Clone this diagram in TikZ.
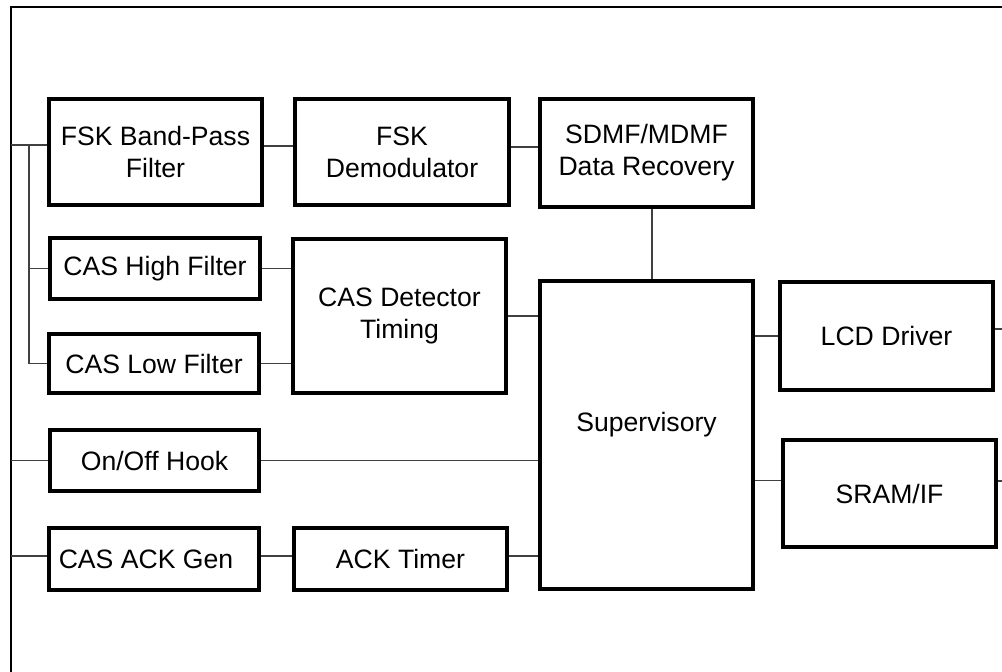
\documentclass[tikz,border=0pt]{standalone}
\usepackage{fontspec}
\setmainfont{Liberation Sans}
\begin{document}
\begin{tikzpicture}[x=1pt,y=-1pt,
  box/.style={draw=black, line width=3.1pt, inner sep=0pt, align=center, font=\fontsize{26.6}{32}\selectfont},
  wire/.style={draw=black!75, line width=1.7pt},
  frame/.style={draw=black, line width=1.5pt}]
\useasboundingbox (0,0) rectangle (1002,672);
\coordinate (frameL) at (11,0);
\coordinate (frameR) at (1002,0);
\coordinate (busX) at (29,0);
\coordinate (frameTL) at (11,7);
\coordinate (frameTR) at (1002,7);
\coordinate (frameBL) at (11,672);
\draw[frame] (frameBL) -- (frameTL) -- (frameTR);

\node[box, minimum width=213pt, minimum height=106pt] (bpf) at (155.5,152) {FSK Band-Pass\\Filter};
\node[box, minimum width=214pt, minimum height=106pt] (dem) at (402,152) {FSK\\Demodulator};
\node[box, minimum width=213pt, minimum height=108pt] (sdmf) at (646.5,153) {SDMF/MDMF\\Data Recovery};
\node[box, minimum width=210pt, minimum height=61pt] (high) at (155,268.5) {CAS High Filter};
\node[box, minimum width=210pt, minimum height=59pt] (low) at (154,363.5) {CAS Low Filter};
\node[box, minimum width=213pt, minimum height=154pt] (det) at (399.5,316) {CAS Detector\\Timing};
\node[box, minimum width=213pt, minimum height=308pt] (sup) at (646.5,435) {};
\node[font=\fontsize{26.6}{32}\selectfont] (suptxt) at (646.5,425) {Supervisory};
\node[box, minimum width=213pt, minimum height=108pt] (lcd) at (886.5,336) {LCD Driver};
\node[box, minimum width=213pt, minimum height=107pt] (sram) at (889.5,493.5) {SRAM/IF};
\node[box, minimum width=209pt, minimum height=61pt] (hook) at (154.5,460.5) {On/Off Hook};
\node[box, minimum width=210pt, minimum height=62pt] (ackgen) at (154,559) {CAS ACK Gen\hspace{16pt}};
\node[box, minimum width=213pt, minimum height=62pt] (acktimer) at (400.5,559) {ACK Timer};

% left bus
\coordinate (bpfin) at ([yshift=7pt]bpf.west);
\draw[wire] (frameL |- bpfin) -- (bpfin);
\draw[wire] (busX |- bpfin) -- (busX |- low.west);
\draw[wire] (busX |- high.west) -- (high.west);
\draw[wire] (busX |- low.west) -- (low.west);
\draw[wire] (frameL |- hook.west) -- (hook.west);
\coordinate (ackin) at ([yshift=3pt]ackgen.west);
\draw[wire] (frameL |- ackin) -- (ackin);

% chain connections
\draw[wire] ([yshift=6pt]bpf.east) -- ([yshift=6pt]dem.west);
\draw[wire] ([yshift=5pt]dem.east) -- ([yshift=5pt]dem.east -| sdmf.west);
\draw[wire] ([xshift=5.5pt]sdmf.south) -- ([xshift=5.5pt]sdmf.south |- sup.north);
\draw[wire] (high.east) -- (high.east -| det.west);
\draw[wire] (low.east) -- (low.east -| det.west);
\draw[wire] (det.east) -- (det.east -| sup.west);
\draw[wire] (hook.east) -- (hook.east -| sup.west);
\draw[wire] ([yshift=3pt]ackgen.east) -- ([yshift=3pt]ackgen.east -| acktimer.west);
\draw[wire] ([yshift=3pt]acktimer.east) -- ([yshift=3pt]acktimer.east -| sup.west);
\draw[wire] (lcd.west) -- (lcd.west -| sup.east);
\draw[wire] ([yshift=13pt]sram.west) -- ([yshift=13pt]sram.west -| sup.east);
\draw[wire] ([yshift=7pt]lcd.east) -- ([yshift=7pt]lcd.east -| frameR);
\draw[wire] ([yshift=12.5pt]sram.east) -- ([yshift=12.5pt]sram.east -| frameR);
\end{tikzpicture}
\end{document}
